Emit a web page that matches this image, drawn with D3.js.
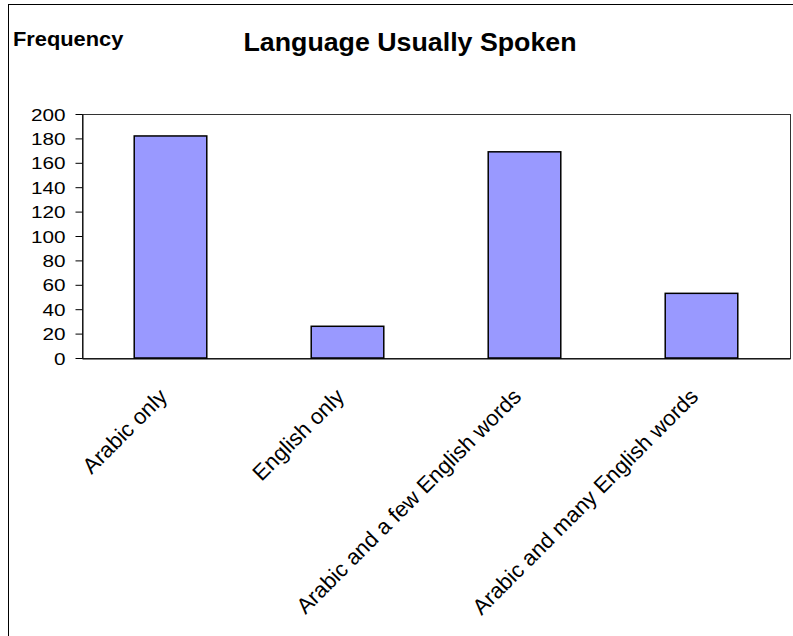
<!DOCTYPE html>
<html>
<head>
<meta charset="utf-8">
<script src="https://cdn.jsdelivr.net/npm/d3@7"></script>
<style>
  html, body { margin: 0; padding: 0; background: #fff; }
  svg { display: block; }
  text { font-family: "Liberation Sans", Arial, sans-serif; fill: #000; }
</style>
</head>
<body>
<svg id="chart" width="793" height="636"></svg>
<script>
// Survey responses: language usually spoken
const categories = ["Arabic only", "English only", "Arabic and a few English words", "Arabic and many English words"];
const frequencies = [182, 26, 169, 53];
const yTicks = [0, 20, 40, 60, 80, 100, 120, 140, 160, 180, 200];
const chartTitle = "Language Usually Spoken";
const yTitle = "Frequency";

const svg = d3.select("#chart");
const W = 793, H = 636;
const plot = { left: 82, right: 790, top: 114, bottom: 358 };

// outer chart frame
svg.append("rect")
  .attr("x", 8.5).attr("y", 4.5)
  .attr("width", W + 10).attr("height", H + 10)
  .attr("fill", "#fff").attr("stroke", "#000").attr("stroke-width", 1);

const x = d3.scaleBand()
  .domain(categories)
  .range([plot.left, plot.right])
  .paddingInner(0.59).paddingOuter(0.295);

const y = d3.scaleLinear().domain([0, 200]).range([plot.bottom, plot.top]);

// plot area border
svg.append("rect")
  .attr("x", plot.left + 0.5).attr("y", plot.top + 0.5)
  .attr("width", plot.right - plot.left).attr("height", plot.bottom - plot.top)
  .attr("fill", "#fff").attr("stroke", "#333").attr("stroke-width", 1);

// bars
svg.append("g").selectAll("rect")
  .data(frequencies)
  .join("rect")
  .attr("x", (d, i) => x(categories[i]))
  .attr("y", d => y(d))
  .attr("width", x.bandwidth())
  .attr("height", d => y(0) - y(d))
  .attr("fill", "#9999FF")
  .attr("stroke", "#000")
  .attr("stroke-width", 1.5);

// y axis
const yAxis = svg.append("g")
  .attr("transform", `translate(${plot.left + 0.5},0)`)
  .call(d3.axisLeft(y).tickValues(yTicks).tickSize(7).tickPadding(10).tickSizeOuter(0));
yAxis.select(".domain").attr("stroke", "#000");
yAxis.selectAll(".tick line").attr("stroke", "#000");
yAxis.selectAll(".tick text")
  .attr("font-size", 17)
  .attr("font-family", "Liberation Sans, Arial, sans-serif")
  .attr("fill", "#000")
  .attr("x", null).attr("dy", "0.36em")
  .attr("transform", "translate(-17,0) scale(1.22,1)");

// x axis baseline
const xAxis = svg.append("g")
  .attr("transform", `translate(0,${plot.bottom + 0.5})`)
  .call(d3.axisBottom(x).tickSize(0).tickSizeOuter(0).tickFormat(""));
xAxis.select(".domain").attr("stroke", "#000");

// rotated category labels
svg.append("g").selectAll("text")
  .data(categories)
  .join("text")
  .attr("transform", d => `translate(${x(d) + x.bandwidth() / 2 - 2},398) rotate(-45)`)
  .attr("text-anchor", "end")
  .attr("font-size", 22)
  .text(d => d);

// titles
svg.append("text")
  .attr("transform", "translate(410,51) scale(1.03,1)")
  .attr("text-anchor", "middle")
  .attr("font-size", 26)
  .attr("font-weight", "bold")
  .text(chartTitle);

svg.append("text")
  .attr("transform", "translate(13,45.5) scale(1.12,1)")
  .attr("font-size", 19.5)
  .attr("font-weight", "bold")
  .text(yTitle);
</script>
</body>
</html>
